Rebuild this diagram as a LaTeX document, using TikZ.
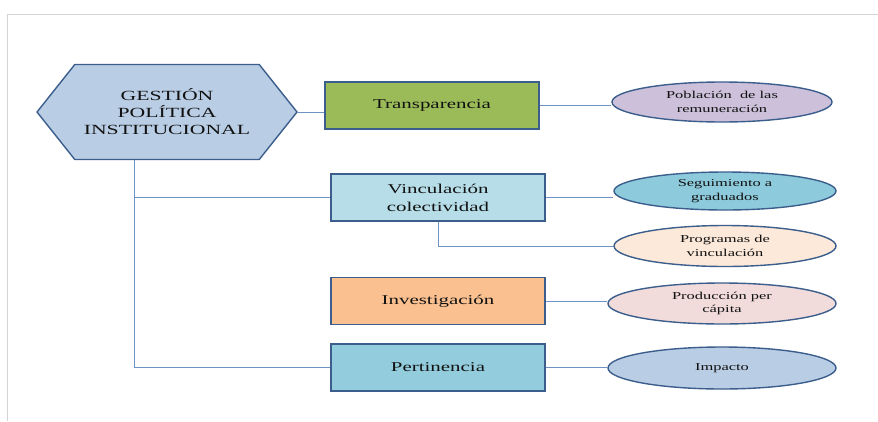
\documentclass[tikz,border=0pt]{standalone}
\usepackage{fontspec}
\setmainfont[FakeStretch=1.55]{Liberation Serif}
\usetikzlibrary{shapes.geometric,shapes.symbols}

\definecolor{outline}{HTML}{3B5E8C}
\definecolor{linkblue}{HTML}{6C93C4}
\definecolor{framegray}{HTML}{D4D4D4}
\definecolor{hexfill}{HTML}{B9CDE5}
\definecolor{trafill}{HTML}{9BBB59}
\definecolor{vinfill}{HTML}{B7DEE8}
\definecolor{invfill}{HTML}{FAC090}
\definecolor{perfill}{HTML}{93CDDD}
\definecolor{pobfill}{HTML}{CCC0DA}
\definecolor{segfill}{HTML}{8DCBDC}
\definecolor{profill}{HTML}{FDE9D9}
\definecolor{prcfill}{HTML}{F2DCDB}
\definecolor{impfill}{HTML}{B9CDE5}
\definecolor{ink}{HTML}{111111}

\tikzset{
  hexa/.style={shape=signal, signal to=west and east, signal pointer angle=103,
    draw=outline, line width=1.4pt, fill=hexfill, minimum width=260pt,
    minimum height=95pt, inner sep=0pt, align=center, text=ink,
    font=\fontsize{14}{17}\selectfont},
  box/.style={draw=outline, line width=1.4pt, minimum width=214pt,
    minimum height=47pt, inner sep=0pt, align=center, text=ink,
    font=\fontsize{13.5}{18}\selectfont},
  oval/.style={ellipse, draw=outline, line width=1.4pt, minimum width=222pt,
    minimum height=40pt, inner sep=0pt, align=center, text=ink,
    font=\fontsize{10.6}{13.5}\selectfont},
  link/.style={draw=linkblue, line width=0.8pt}
}

\begin{document}
\begin{tikzpicture}[x=1pt,y=-1pt]
  \useasboundingbox (0,0) rectangle (878,421);
  \fill[white] (0,0) rectangle (878,421);

  % page frame
  \draw[framegray, line width=1pt] (878,14) -- (7,14) -- (7,421);

  % main concept
  \node[hexa] (gpi) at (167,112) {GESTIÓN\\POLÍTICA\\INSTITUCIONAL};

  % dimensions
  \node[box, fill=trafill] (tra) at (432,105.5) {Transparencia};
  \node[box, fill=vinfill] (vin) at (438,197.5) {Vinculación\\colectividad};
  \node[box, fill=invfill] (inv) at (438,301) {Investigación};
  \node[box, fill=perfill] (per) at (438,367.5) {Pertinencia};

  % indicators
  \node[oval, fill=pobfill, minimum width=220pt] (pob) at (722,102) {Población~ de las\\remuneración};
  \node[oval, fill=segfill, minimum height=38pt] (seg) at (725,191) {Seguimiento a\\graduados};
  \node[oval, fill=profill, minimum height=41pt] (pro) at (725,246) {Programas de\\vinculación};
  \node[oval, fill=prcfill, minimum width=228pt, minimum height=41pt] (prc) at (722,303.5) {Producción per\\cápita};
  \node[oval, fill=impfill, minimum width=228pt, minimum height=42pt] (imp) at (722,368) {Impacto};

  % connectors
  \coordinate (tx) at (134,0);
  \draw[link] (gpi.east) -- (gpi.east -| tra.west);
  \draw[link] (tra.east) -- (tra.east -| pob.west);
  \draw[link] (gpi.south -| tx) |- (per.west);
  \draw[link] (tx |- vin.west) -- (vin.west);
  \draw[link] (vin.east) -- (vin.east -| seg.west);
  \draw[link] (vin.south) |- (pro.west);
  \draw[link] (inv.east) -- (inv.east -| prc.west);
  \draw[link] (per.east) -- (per.east -| imp.west);
\end{tikzpicture}
\end{document}
